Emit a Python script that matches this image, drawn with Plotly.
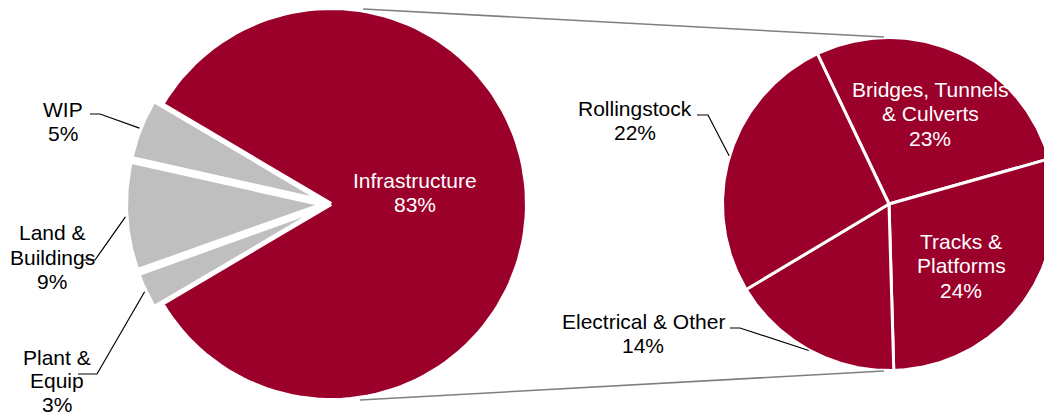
import numpy as np
import plotly.graph_objects as go

# ---- data ----
left_labels = ["Infrastructure", "Plant & Equip", "Land & Buildings", "WIP"]
left_values = [83, 3, 9, 5]
left_text = ["Infrastructure", "Plant &<br>Equip", "Land &<br>Buildings", "WIP"]

right_labels = ["Bridges, Tunnels & Culverts", "Tracks & Platforms",
                "Electrical & Other", "Rollingstock"]
right_values = [23, 24, 14, 22]
right_text = ["Bridges, Tunnels<br>& Culverts", "Tracks &<br>Platforms",
              "Electrical & Other", "Rollingstock"]

# ---- style / layout ----
RED = "#9B002B"
GREY = "#BFBFBF"
FONT = "Liberation Sans, Arial, sans-serif"
FS = 21
LS = 24.5
W, H = 1044, 415

C1 = (331, 204); R1 = 194; PULL1 = 9; BW1 = 4
C2 = (889, 204); R2 = 165; BW2 = 3
START2 = -25.5


def pt(c, r, a):
    t = np.radians(a)
    return c[0] + r * np.sin(t), c[1] - r * np.cos(t)


def wedge(c, r, a0, a1, n=120):
    t = np.radians(np.linspace(a0, a1, n))
    xs = np.concatenate([[c[0]], c[0] + r * np.sin(t), [c[0]]])
    ys = np.concatenate([[c[1]], c[1] - r * np.cos(t), [c[1]]])
    return xs, ys


fig = go.Figure()

# left pie: group of small slices centred at 9 o'clock
tot1 = sum(left_values)
other = tot1 - left_values[0]
start1 = 270 + other / tot1 * 360 / 2 - 360
bounds1 = start1 + np.concatenate([[0], np.cumsum(left_values)]) / tot1 * 360
left_info = []
for i, (lab, v) in enumerate(zip(left_labels, left_values)):
    a0, a1 = bounds1[i], bounds1[i + 1]
    mid = (a0 + a1) / 2
    pull = 0 if i == 0 else PULL1
    c = pt(C1, pull, mid)
    xs, ys = wedge(c, R1 + BW1 / 2, a0, a1)
    fig.add_trace(go.Scatter(x=xs, y=ys, fill="toself", mode="lines",
                             fillcolor=RED if i == 0 else GREY,
                             line=dict(color="white", width=BW1),
                             hoverinfo="skip", name=lab))
    left_info.append((mid, pull))

# right pie
tot2 = sum(right_values)
bounds2 = START2 + np.concatenate([[0], np.cumsum(right_values)]) / tot2 * 360
right_mid = []
for i, (lab, v) in enumerate(zip(right_labels, right_values)):
    a0, a1 = bounds2[i], bounds2[i + 1]
    xs, ys = wedge(C2, R2 + BW2 / 2, a0, a1)
    fig.add_trace(go.Scatter(x=xs, y=ys, fill="toself", mode="lines",
                             fillcolor=RED, line=dict(color="white", width=BW2),
                             hoverinfo="skip", name=lab))
    right_mid.append((a0 + a1) / 2)

# series (connector) lines
for (x0, y0), (x1, y1) in [((363, 9), (884, 37)), ((360, 400), (884, 371))]:
    fig.add_trace(go.Scatter(x=[x0, x1], y=[y0, y1], mode="lines",
                             line=dict(color="#7F7F7F", width=1.6),
                             hoverinfo="skip"))

# leader lines
def leader(c, r, a, elbow, end):
    px, py = pt(c, r, a)
    fig.add_trace(go.Scatter(x=[px, elbow[0], end[0]], y=[py, elbow[1], end[1]],
                             mode="lines", line=dict(color="black", width=1.2),
                             hoverinfo="skip"))

# left: WIP(3), Land(2), Plant(1)
left_elbows = {3: ((100, 114), (90, 114)), 2: ((95, 260), (82, 260)),
               1: ((97, 374), (78, 374))}
for i, (el, en) in left_elbows.items():
    mid, pull = left_info[i]
    leader(C1, R1 + pull + 3, mid, el, en)

right_elbows = {3: ((708, 115), (697, 115)), 2: ((740, 328), (730, 328))}
for i, (el, en) in right_elbows.items():
    leader(C2, R2 + 2, right_mid[i], el, en)

# labels (one annotation per text line for exact line spacing)
def pct(v, tot):
    return f"{round(v / tot * 100)}%"

ann = []

def add_label(text, x, y0, col, ls=LS):
    for k, line in enumerate(text.split("<br>")):
        ann.append(dict(x=x, y=y0 + k * ls, text=line,
                        font=dict(color=col, family=FONT, size=FS),
                        xref="x", yref="y", showarrow=False,
                        xanchor="center", yanchor="middle", align="center"))

label_pos_left = [(415, 180.3, "white", LS), (57, 357, "black", 23.5),
                  (52, 232.5, "black", LS), (63, 109, "black", LS)]
for t, v, (x, y, col, ls) in zip(left_text, left_values, label_pos_left):
    add_label(f"{t}<br>{pct(v, tot1)}", x, y, col, ls)

label_pos_right = [(930, 89, "white", LS), (961, 241, "white", LS),
                   (643, 321, "black", LS), (635, 108, "black", LS)]
for t, v, (x, y, col, ls) in zip(right_text, right_values, label_pos_right):
    add_label(f"{t}<br>{pct(v, tot1)}", x, y, col, ls)

fig.update_layout(
    width=W, height=H, margin=dict(l=0, r=0, t=0, b=0),
    paper_bgcolor="white", plot_bgcolor="white", showlegend=False,
    xaxis=dict(range=[0, W], visible=False, fixedrange=True),
    yaxis=dict(range=[H, 0], visible=False, fixedrange=True),
    annotations=ann,
)

fig.write_html("out.html", config={"displayModeBar": False})
